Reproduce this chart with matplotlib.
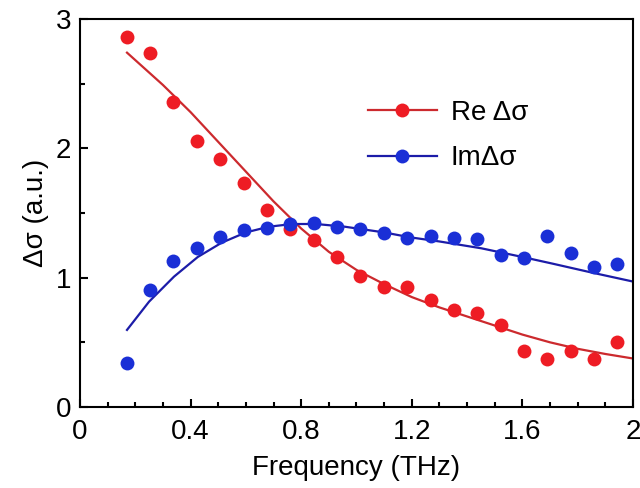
import matplotlib
matplotlib.use("Agg")
import matplotlib.pyplot as plt
from matplotlib.lines import Line2D
from matplotlib.ticker import MultipleLocator

plt.rcParams['font.family'] = ['Liberation Sans', 'DejaVu Sans']

# Measured data points
freq = [0.169, 0.253, 0.338, 0.423, 0.507, 0.592, 0.676, 0.761, 0.845, 0.930,
        1.014, 1.099, 1.183, 1.268, 1.352, 1.437, 1.521, 1.606, 1.690, 1.775,
        1.859, 1.944]
re_sigma = [2.86, 2.735, 2.36, 2.06, 1.92, 1.73, 1.52, 1.38, 1.29, 1.16,
            1.01, 0.93, 0.925, 0.83, 0.75, 0.73, 0.635, 0.435, 0.37, 0.435,
            0.37, 0.505]
im_sigma = [0.343, 0.905, 1.13, 1.227, 1.312, 1.369, 1.387, 1.415, 1.425, 1.39,
            1.374, 1.348, 1.305, 1.322, 1.305, 1.297, 1.176, 1.155, 1.325, 1.189,
            1.085, 1.106]

# Fit curves
re_fit_x = [0.17, 0.3, 0.4, 0.5, 0.6, 0.7, 0.8, 0.9, 1.0, 1.1, 1.2, 1.3, 1.4,
            1.5, 1.6, 1.7, 1.8, 1.9, 2.0]
re_fit_y = [2.74, 2.49, 2.28, 2.05, 1.82, 1.59, 1.38, 1.20, 1.06, 0.95, 0.85,
            0.77, 0.70, 0.63, 0.56, 0.50, 0.45, 0.41, 0.375]
im_fit_x = [0.17, 0.25, 0.34, 0.426, 0.512, 0.6, 0.683, 0.768, 0.854, 0.958,
            1.1, 1.194, 1.3, 1.452, 1.6, 1.706, 1.85, 2.0]
im_fit_y = [0.596, 0.815, 1.008, 1.16, 1.27, 1.35, 1.394, 1.415, 1.415, 1.394,
            1.35, 1.312, 1.28, 1.227, 1.16, 1.11, 1.04, 0.97]

red_dot = '#ee1c24'
red_line = '#cc2a2e'
blue_dot = '#1a2fd6'
blue_line = '#1c1ca8'

fig = plt.figure(figsize=(6.4, 4.88), dpi=100)
ax = fig.add_axes([0.125, 0.166, 0.864, 0.795])

ax.plot(re_fit_x, re_fit_y, color=red_line, lw=1.6, zorder=2)
ax.plot(im_fit_x, im_fit_y, color=blue_line, lw=1.6, zorder=2)
ax.plot(freq, re_sigma, 'o', color=red_dot, ms=10, mec='none', zorder=3)
ax.plot(freq, im_sigma, 'o', color=blue_dot, ms=10, mec='none', zorder=3)

ax.set_xlim(0, 2)
ax.set_ylim(0, 3)
ax.xaxis.set_minor_locator(MultipleLocator(0.1))
ax.yaxis.set_major_locator(MultipleLocator(1))
ax.yaxis.set_minor_locator(MultipleLocator(0.5))
ax.set_xticks([0, 0.4, 0.8, 1.2, 1.6, 2.0])
ax.set_xticklabels(['0', '0.4', '0.8', '1.2', '1.6', '2'])
ax.tick_params(which='both', direction='in', top=False, right=False,
               labelsize=20, width=1.5)
ax.tick_params(which='major', length=6)
ax.tick_params(which='minor', length=3.5)
ax.tick_params(axis='x', pad=9)
ax.tick_params(axis='y', pad=6.5)
for s in ax.spines.values():
    s.set_linewidth(1.5)

ax.set_xlabel('Frequency (THz)', fontsize=20, labelpad=7)
ax.set_ylabel('Δσ (a.u.)', fontsize=20, labelpad=5)

handles = [Line2D([], [], color=red_line, lw=1.6, marker='o', ms=10,
                  mfc=red_dot, mec='none'),
           Line2D([], [], color=blue_line, lw=1.6, marker='o', ms=10,
                  mfc=blue_dot, mec='none')]
ax.legend(handles, ['Re Δσ', 'ImΔσ'], loc='upper left',
          bbox_to_anchor=(0.5, 0.82), frameon=False, fontsize=20,
          handlelength=2.5, handletextpad=0.5, labelspacing=0.7,
          borderaxespad=0)

fig.savefig('out.png', dpi=100)
